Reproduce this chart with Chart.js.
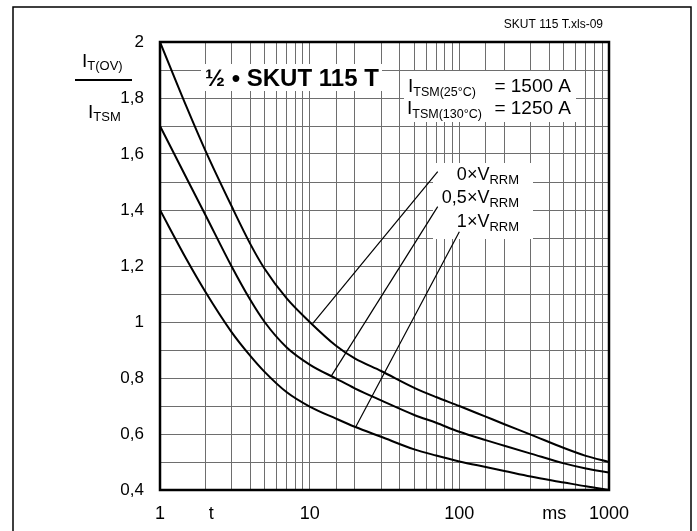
<!DOCTYPE html>
<html><head><meta charset="utf-8">
<script src="https://cdn.jsdelivr.net/npm/chart.js@4"></script>
<style>html,body{margin:0;padding:0;background:#fff}canvas{display:block}</style>
</head><body>
<canvas id="c" width="697" height="531"></canvas>
<script>
// ---- data (t in ms, value = I_T(OV)/I_TSM) ----
const tPts = [1, 1.5, 2, 3, 4, 5, 7, 10, 15, 20, 30, 50, 70, 100, 150, 200, 300, 500, 700, 1000];
const vTop = [2.00, 1.77, 1.615, 1.415, 1.28, 1.19, 1.085, 1.00, 0.915, 0.87, 0.825, 0.765, 0.732, 0.70, 0.662, 0.635, 0.598, 0.55, 0.522, 0.50];
const vMid = [1.70, 1.515, 1.385, 1.20, 1.08, 1.00, 0.91, 0.848, 0.798, 0.763, 0.72, 0.668, 0.64, 0.608, 0.578, 0.558, 0.53, 0.495, 0.477, 0.462];
const vBot = [1.40, 1.225, 1.11, 0.965, 0.88, 0.822, 0.75, 0.698, 0.655, 0.626, 0.59, 0.545, 0.523, 0.502, 0.482, 0.468, 0.448, 0.427, 0.413, 0.40];
// leader lines from curves to labels
const lead0T = [10.5, 71.7],  lead0V = [0.995, 1.537];
const lead05T = [13.9, 71.7], lead05V = [0.806, 1.412];
const lead1T = [20.3, 100],   lead1V = [0.625, 1.322];
// tick labels
const xUnitLabels = ['t', 'ms'];
const xUnitAt = [2.2, 430];
const seriesLabels = ['0×V', '0,5×V', '1×V'];
const seriesSub = 'RRM';

const FONT = '"Liberation Sans", Arial, Helvetica, sans-serif';
function pts(ts, vs) { return ts.map((t, i) => ({ x: t, y: vs[i] })); }

function rich(ctx, parts, x, y, align) {
  let w = 0;
  parts.forEach(p => { ctx.font = (p.bold ? 'bold ' : '') + p.size + 'px ' + FONT; p.w = ctx.measureText(p.text).width; w += p.w; });
  let cx = align === 'right' ? x - w : x;
  parts.forEach(p => { ctx.font = (p.bold ? 'bold ' : '') + p.size + 'px ' + FONT; ctx.fillText(p.text, cx, y + (p.dy || 0)); cx += p.w; });
}

const deco = {
  id: 'deco',
  beforeDraw(chart) {
    const ctx = chart.ctx;
    ctx.save();
    ctx.fillStyle = '#fff';
    ctx.fillRect(0, 0, chart.width, chart.height);
    ctx.strokeStyle = '#000';
    ctx.lineWidth = 1.5;
    ctx.beginPath();
    ctx.moveTo(13, 531); ctx.lineTo(13, 7); ctx.lineTo(691, 7); ctx.lineTo(691, 531);
    ctx.stroke();
    ctx.restore();
  },
  beforeDatasetsDraw(chart) {
    const ctx = chart.ctx;
    ctx.save();
    ctx.fillStyle = '#fff';
    ctx.fillRect(201, 64, 181, 27);
    ctx.fillRect(404, 71, 172, 51);
    ctx.fillRect(433, 163, 100, 76);
    ctx.restore();
  },
  afterDatasetsDraw(chart) {
    const ctx = chart.ctx, a = chart.chartArea;
    ctx.save();
    ctx.strokeStyle = '#000';
    ctx.lineWidth = 2.5;
    ctx.strokeRect(a.left, a.top, a.right - a.left, a.bottom - a.top);
    ctx.fillStyle = '#000';
    ctx.textBaseline = 'alphabetic';
    ctx.textAlign = 'left';
    rich(ctx, [{ text: 'SKUT 115 T.xls-09', size: 12 }], 603, 28, 'right');
    rich(ctx, [{ text: '½ • SKUT 115 T', size: 24, bold: true }], 205, 86);
    rich(ctx, [{ text: 'I', size: 19 }, { text: 'TSM(25°C)', size: 12.5, dy: 4 }], 408, 92);
    rich(ctx, [{ text: '= 1500 A', size: 19 }], 571, 92, 'right');
    rich(ctx, [{ text: 'I', size: 19 }, { text: 'TSM(130°C)', size: 12.5, dy: 4 }], 407, 114);
    rich(ctx, [{ text: '= 1250 A', size: 19 }], 571, 114, 'right');
    const bl = [180, 203, 227];
    seriesLabels.forEach((s, i) => rich(ctx, [{ text: s, size: 18 }, { text: seriesSub, size: 13, dy: 4 }], 519, bl[i], 'right'));
    rich(ctx, [{ text: 'I', size: 19 }, { text: 'T(OV)', size: 13, dy: 3 }], 82, 67);
    ctx.lineWidth = 2;
    ctx.beginPath(); ctx.moveTo(75, 80); ctx.lineTo(132, 80); ctx.stroke();
    rich(ctx, [{ text: 'I', size: 19 }, { text: 'TSM', size: 13, dy: 3 }], 88, 118);
    const xs = chart.scales.x;
    ctx.textAlign = 'center';
    ctx.textBaseline = 'middle';
    ctx.font = '18px ' + FONT;
    xUnitLabels.forEach((s, i) => ctx.fillText(s, xs.getPixelForValue(xUnitAt[i]), 514));
    ctx.restore();
  }
};

const curve = (d) => ({ data: d, borderColor: '#000', borderWidth: 2, pointRadius: 0, fill: false, cubicInterpolationMode: 'monotone' });
const leader = (d) => ({ data: d, borderColor: '#000', borderWidth: 1.2, pointRadius: 0, fill: false, tension: 0 });

new Chart(document.getElementById('c'), {
  type: 'line',
  data: {
    datasets: [
      curve(pts(tPts, vTop)),
      curve(pts(tPts, vMid)),
      curve(pts(tPts, vBot)),
      leader(pts(lead0T, lead0V)),
      leader(pts(lead05T, lead05V)),
      leader(pts(lead1T, lead1V))
    ]
  },
  options: {
    responsive: false,
    devicePixelRatio: 1,
    animation: false,
    layout: { padding: { left: 0, top: 42, right: 88, bottom: 0 } },
    plugins: { legend: { display: false }, tooltip: { enabled: false } },
    scales: {
      x: {
        type: 'logarithmic', min: 1, max: 1000,
        grid: { color: '#6e6e6e', lineWidth: 1, drawTicks: false },
        border: { display: false },
        ticks: {
          autoSkip: false, maxRotation: 0, minRotation: 0, padding: 13, color: '#000',
          font: { family: FONT, size: 18 },
          callback: (v) => { const l = Math.log10(v); return Math.abs(l - Math.round(l)) < 1e-9 ? String(Math.round(v)) : ''; }
        },
        afterFit: (s) => { s.height = 41; }
      },
      y: {
        type: 'linear', min: 0.4, max: 2,
        grid: { color: '#6e6e6e', lineWidth: 1, drawTicks: false },
        border: { display: false },
        ticks: {
          stepSize: 0.1, padding: 16, color: '#000', autoSkip: false,
          font: { family: FONT, size: 17 },
          callback: (v) => { const k = Math.round(v * 10); return k % 2 === 0 ? String(k / 10).replace('.', ',') : ''; }
        },
        afterFit: (s) => { s.width = 160; }
      }
    }
  },
  plugins: [deco]
});
</script>
</body></html>
